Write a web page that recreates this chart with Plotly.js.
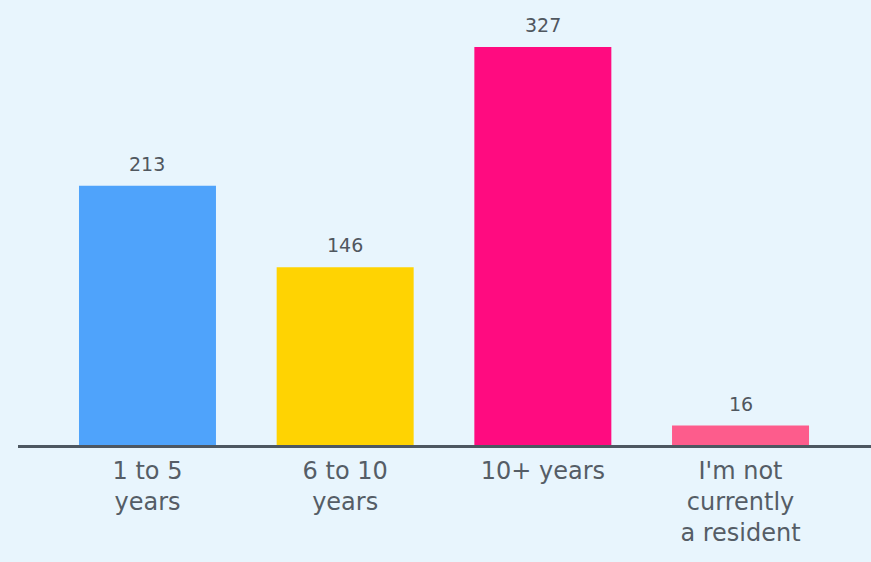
<!DOCTYPE html>
<html>
<head>
<meta charset="utf-8">
<script src="https://cdn.plot.ly/plotly-3.0.1.min.js"></script>
<style>html,body{margin:0;padding:0;background:#e8f5fd;}</style>
</head>
<body>
<div id="chart" style="width:871px;height:562px;"></div>
<script>
const categories = ["1 to 5<br>years", "6 to 10<br>years", "10+ years", "I'm not<br>currently<br>a resident"];
const values = [213, 146, 327, 16];
const colors = ["#4fa3fb", "#ffd302", "#ff0b80", "#fd5c8c"];

const positions = categories.map((c, i) => i);

const trace = {
  type: "bar",
  x: positions,
  y: values,
  marker: {color: colors},
  hoverinfo: "none"
};

const valueLabels = values.map((v, i) => ({
  x: positions[i], y: v, xref: "x", yref: "y",
  text: String(v), showarrow: false,
  yanchor: "bottom", yshift: 9,
  font: {family: "DejaVu Sans, sans-serif", size: 19, color: "#50575f"}
}));

const layout = {
  width: 871, height: 562,
  margin: {l: 18, r: 0, t: 0, b: 117},
  paper_bgcolor: "#e8f5fd",
  plot_bgcolor: "#e8f5fd",
  bargap: 0.307,
  showlegend: false,
  annotations: valueLabels,
  xaxis: {
    range: [-0.655, 3.66],
    tickvals: positions,
    ticktext: categories,
    showgrid: false, zeroline: false,
    showline: true, linecolor: "#4d5761", linewidth: 3,
    ticks: "", ticklabelstandoff: 2,
    tickfont: {family: "DejaVu Sans, sans-serif", size: 24, color: "#555d66"},
    fixedrange: true
  },
  yaxis: {
    range: [0, 365.6],
    visible: false, showgrid: false, zeroline: false, fixedrange: true
  }
};

Plotly.newPlot("chart", [trace], layout, {displayModeBar: false, staticPlot: true});
</script>
</body>
</html>
